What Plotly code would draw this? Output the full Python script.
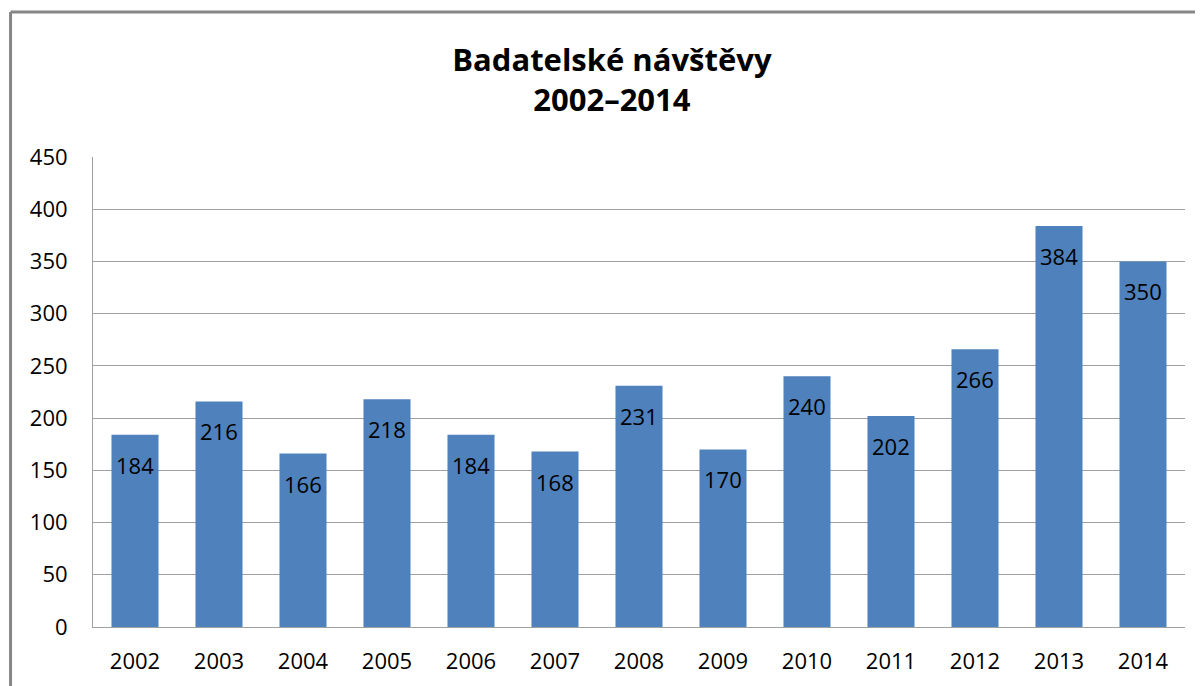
import plotly.graph_objects as go

years = ["2002", "2003", "2004", "2005", "2006", "2007", "2008",
         "2009", "2010", "2011", "2012", "2013", "2014"]
visits = [184, 216, 166, 218, 184, 168, 231, 170, 240, 202, 266, 384, 350]
y_ticks = [0, 50, 100, 150, 200, 250, 300, 350, 400, 450]

FONT = "Open Sans"

fig = go.Figure()
fig.add_trace(go.Bar(
    x=years, y=visits,
    marker=dict(color="#4F81BD", line=dict(width=0)),
    hoverinfo="x+y",
))

for i, v in enumerate(visits):
    fig.add_annotation(x=i, y=v, text=str(v), showarrow=False,
                       yanchor="middle", yshift=-30,
                       font=dict(family=FONT, size=22, color="#000000"))

# outer chart border (left and top visible)
fig.add_shape(type="line", xref="paper", yref="paper",
              x0=-0.0755, x1=-0.0755, y0=-0.2, y1=1.3085,
              line=dict(color="#868686", width=3))
fig.add_shape(type="line", xref="paper", yref="paper",
              x0=-0.0755, x1=1.1, y0=1.3085, y1=1.3085,
              line=dict(color="#868686", width=3))

fig.update_layout(
    width=1203, height=686,
    margin=dict(l=85, r=26, t=149, b=67, autoexpand=False),
    paper_bgcolor="white", plot_bgcolor="white",
    showlegend=False,
    bargap=0.44,
    title=dict(text="<b>Badatelské návštěvy<br>2002–2014</b>",
               x=0.502, xanchor="center", y=0.908, yanchor="middle",
               font=dict(family=FONT, size=31, color="#000000")),
    font=dict(family=FONT, size=22, color="#000000"),
    xaxis=dict(type="category", range=[-0.5, len(years) - 0.5],
               showline=True, linecolor="#A0A0A0", linewidth=1,
               ticks="", showgrid=False, ticklabelstandoff=15, automargin=False,
               tickfont=dict(family=FONT, size=22, color="#000000")),
    yaxis=dict(range=[0, 450], tickvals=y_ticks, showline=True, linecolor="#A0A0A0",
               linewidth=1, showgrid=True, gridcolor="#A0A0A0", gridwidth=1,
               zeroline=False, ticks="", ticklabelstandoff=20, automargin=False,
               tickfont=dict(family=FONT, size=22, color="#000000")),
)

fig.write_html("out.html")
